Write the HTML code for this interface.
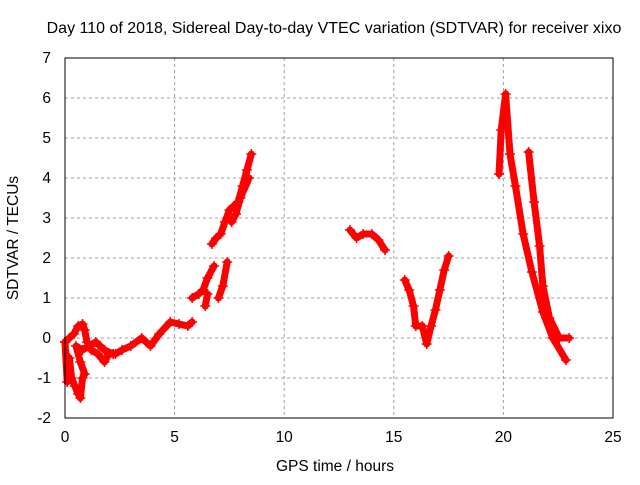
<!DOCTYPE html>
<html><head><meta charset="utf-8"><style>
body{margin:0;background:#fff;font-family:"Liberation Sans",sans-serif}
svg text{font-family:"Liberation Sans",sans-serif;font-size:15.5px;fill:#000}
</style></head><body>
<svg id="c" width="640" height="480">
<text x="334" y="33" text-anchor="middle" style="font-size:16px">Day 110 of 2018, Sidereal Day-to-day VTEC variation (SDTVAR) for receiver xixo</text>
<text x="335" y="471" text-anchor="middle">GPS time / hours</text>
<text transform="translate(18,238) rotate(-90)" text-anchor="middle">SDTVAR / TECUs</text>
<g id="grid"></g><g id="ticks"></g><g id="marks"></g>
<rect x="65" y="58" width="548" height="360" fill="none" stroke="#000"/>
</svg>
<script>
const xTicks=[0,5,10,15,20,25];
const yTicks=[-2,-1,0,1,2,3,4,5,6,7];
const segA1_t=[0,0.2,0.4,0.6,0.8,0.9,1.0,1.2,1.5,1.8,2.0,2.3,2.6,3.0,3.5,3.9,4.3,4.8,5.2,5.6,5.8];
const segA1_v=[-0.1,0,0.1,0.3,0.35,0.2,-0.1,-0.3,-0.4,-0.6,-0.4,-0.4,-0.3,-0.2,0,-0.2,0.1,0.4,0.35,0.3,0.4];
const segA2_t=[0,0.1,0.2,0.3,0.45,0.6,0.7,0.8,0.9,0.7,0.5,0.8,1.1,1.4,1.6,1.8,2.2];
const segA2_v=[-0.1,-1.1,-0.5,-1.0,-1.2,-1.4,-1.5,-1.0,-0.9,-0.6,-0.2,-0.3,-0.2,-0.1,-0.2,-0.3,-0.4];
const segB_t=[5.8,6.1,6.3,6.5,6.8];
const segB_v=[1.0,1.1,1.2,1.5,1.8];
const segB2_t=[6.4,6.5];
const segB2_v=[0.8,1.1];
const segC_t=[6.7,6.9,7.1,7.3,7.5,7.7,7.9,8.1,8.3,8.5];
const segC_v=[2.35,2.5,2.6,2.9,3.2,3.3,3.4,3.8,4.2,4.6];
const segC2_t=[7.6,7.8,8.0,8.4];
const segC2_v=[2.9,3.1,3.5,4.0];
const segD_t=[7.0,7.2,7.4];
const segD_v=[1.0,1.3,1.9];
const segE_t=[13.0,13.3,13.6,14.0,14.3,14.6];
const segE_v=[2.7,2.5,2.6,2.6,2.45,2.2];
const segF_t=[15.5,15.7,15.9,16.0,16.3,16.5,16.7,16.9,17.1,17.3,17.5];
const segF_v=[1.45,1.2,0.8,0.3,0.3,-0.15,0.3,0.7,1.2,1.7,2.05];
const segG_t=[19.8,19.9,20.1,20.3,20.55,20.9,21.3,21.8,22.25,22.85];
const segG_v=[4.1,5.2,6.1,4.6,3.8,2.6,1.65,0.65,0,-0.55];
const segH_t=[21.15,21.4,21.65,21.8,22.1,22.55,23.0];
const segH_v=[4.65,3.4,2.3,1.3,0.5,0,0];
const segs=[[segA1_t,segA1_v],[segA2_t,segA2_v],[segB_t,segB_v],[segB2_t,segB2_v],[segC_t,segC_v],[segC2_t,segC2_v],[segD_t,segD_v],[segE_t,segE_v],[segF_t,segF_v],[segG_t,segG_v],[segH_t,segH_v]];
const X=t=>65+t*548/25;
const Y=v=>418-(v+2)*40;
const NS="http://www.w3.org/2000/svg";
function mk(tag,attrs,parent){const e=document.createElementNS(NS,tag);for(const k in attrs)e.setAttribute(k,attrs[k]);parent.appendChild(e);return e;}
const grid=document.getElementById('grid'),ticks=document.getElementById('ticks'),marks=document.getElementById('marks');
xTicks.forEach(t=>{
 if(t>0&&t<25){const g=mk('line',{x1:X(t),x2:X(t),y1:58,y2:418,stroke:'#a0a0a0','stroke-dasharray':'3,3'},grid);
 
 }
 const l=mk('text',{x:X(t),y:442,'text-anchor':'middle'},ticks);l.textContent=t;
 
 
});
yTicks.forEach(v=>{
 if(v>-2&&v<7){const g=mk('line',{x1:65,x2:613,y1:Y(v),y2:Y(v),stroke:'#a0a0a0','stroke-dasharray':'3,3'},grid);
 
 }
 const l=mk('text',{x:51,y:Y(v)+5,'text-anchor':'end'},ticks);l.textContent=v;
 
 
});
segs.forEach(([ts,vs])=>{
 const pts=ts.map((t,i)=>X(t)+','+Y(vs[i])).join(' ');
 const pl=mk('polyline',{points:pts,fill:'none',stroke:'#f00','stroke-width':7,'stroke-linejoin':'round','stroke-linecap':'round'},marks);
 
 
 ts.forEach((t,i)=>{
  const x=X(t),y=Y(vs[i]);
  const p=mk('path',{d:`M${x-5},${y}H${x+5}M${x},${y-5}V${y+5}`,stroke:'#f00','stroke-width':1.5},marks);
  
  
 });
});
</script>
</body></html>
